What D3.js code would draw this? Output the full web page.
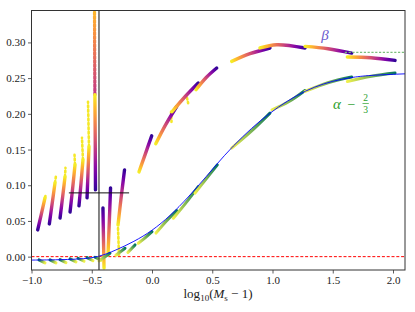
<!DOCTYPE html>
<html><head><meta charset="utf-8">
<script src="https://cdn.jsdelivr.net/npm/d3@7"></script>
<style>body{margin:0;background:#fff}svg{display:block}</style>
</head><body><svg id="c" width="415" height="312"></svg>
<script>
const xTicks=[-1.0,-0.5,0.0,0.5,1.0,1.5,2.0];
const yTicks=[0.00,0.05,0.10,0.15,0.20,0.25,0.30];
// fitted alpha - 2/3 curve (blue)
const fitX=[-1.0,-0.8,-0.6,-0.45,-0.3,-0.15,0.0,0.15,0.3,0.45,0.6,0.75,0.9,1.05,1.2,1.35,1.5,1.65,1.8,2.1];
const fitY=[-0.0048,-0.0045,-0.0035,-0.001,0.009,0.021,0.036,0.057,0.083,0.112,0.142,0.168,0.191,0.210,0.226,0.238,0.246,0.251,0.254,0.256];
// beta tracks (start of run -> end of run)
const betaTracks=[
 [[-0.888,0.0823],[-0.918,0.060],[-0.9485,0.0374]],
 [[-0.805,0.1033],[-0.828,0.075],[-0.852,0.0458]],
 [[-0.722,0.1117],[-0.742,0.083],[-0.763,0.0542]],
 [[-0.639,0.1286],[-0.659,0.095],[-0.680,0.0626]],
 [[-0.573,0.1356],[-0.589,0.103],[-0.606,0.0711]],
 [[-0.523,0.1538],[-0.531,0.118],[-0.539,0.0823]],
 [[-0.474,0.2267],[-0.471,0.16],[-0.469,0.0935]],
 [[-0.398,-0.0158],[-0.4025,0.0234],[-0.407,0.0683]],
 [[-0.365,0.0024],[-0.354,0.050],[-0.344,0.0963]],
 [[-0.282,0.0444],[-0.256,0.083],[-0.228,0.1215]],
 [[-0.108,0.1187],[-0.058,0.1426],[-0.0025,0.1692]],
 [[0.031,0.158],[0.108,0.1832],[0.205,0.2103]],
 [[0.166,0.2029],[0.274,0.2239],[0.384,0.2431]],
 [[0.365,0.2337],[0.448,0.2505],[0.537,0.2641]],
 [[0.661,0.2734],[0.813,0.2842],[0.979,0.2922]],
 [[0.896,0.2922],[1.035,0.2968],[1.270,0.2922]],
 [[1.270,0.2944],[1.461,0.2912],[1.657,0.2851]],
 [[1.621,0.2795],[1.817,0.2786],[2.017,0.2748]]
];
// sparse early points of beta runs
const betaTails=[
 [[-0.888,0.0823],[-0.880,0.0879]],
 [[-0.805,0.1033],[-0.797,0.1131]],
 [[-0.722,0.1117],[-0.718,0.1243]],
 [[-0.639,0.1286],[-0.643,0.1426]],
 [[-0.573,0.1356],[-0.581,0.1664]],
 [[-0.523,0.1538],[-0.531,0.2169]],
 [[-0.282,0.040],[-0.274,0.0024]],
 [[0.158,0.2028],[0.162,0.1888]],
 [[0.29,0.2225],[0.30,0.215]]
];
const columnTop=[[-0.474,0.2267],[-0.476,0.29],[-0.477,0.3445]];
// alpha - 2/3 tracks (start -> end)
const alphaTracks=[
 [[-0.888,-0.0088],[-0.938,-0.0046]],
 [[-0.797,-0.0088],[-0.846,-0.0046]],
 [[-0.714,-0.0084],[-0.763,-0.0042]],
 [[-0.631,-0.0074],[-0.680,-0.0032]],
 [[-0.564,-0.0064],[-0.614,-0.0022]],
 [[-0.490,-0.0056],[-0.539,-0.0014]],
 [[-0.423,-0.0050],[-0.473,-0.0008]],
 [[-0.44,-0.006],[-0.349,0.0048]],
 [[-0.30,0.002],[-0.224,0.0118]],
 [[-0.20,0.006],[-0.141,0.0164]],
 [[-0.114,0.0188],[-0.06,0.026],[0.0,0.035]],
 [[0.033,0.033],[0.12,0.050],[0.205,0.0645]],
 [[0.177,0.0538],[0.28,0.075],[0.384,0.0981]],
 [[0.357,0.0889],[0.45,0.109],[0.542,0.1286]],
 [[0.661,0.152],[0.82,0.175],[0.979,0.201]],
 [[0.996,0.2057],[1.13,0.2165],[1.270,0.2327]],
 [[1.270,0.2313],[1.46,0.2435],[1.657,0.2515]],
 [[1.621,0.2453],[1.82,0.2527],[2.017,0.2571]]
];
const betaLimitY=0.286, betaLimitX=[1.6,2.1];
const crossX=-0.44, crossY=0.0893, crossXRange=[-0.69,-0.19];

const svg=d3.select("#c");
const x=d3.scaleLinear().domain([-1.0,2.1]).range([31.5,405.05]);
const y=d3.scaleLinear().domain([-0.0187,0.3454]).range([270,10]);
const defs=svg.append("defs");
defs.append("clipPath").attr("id","clip").append("rect").attr("x",31.5).attr("y",10).attr("width",373.5).attr("height",260);
const plot=svg.append("g").attr("clip-path","url(#clip)");
const line=d3.line().x(d=>x(d[0])).y(d=>y(d[1])).curve(d3.curveCatmullRom);

let gid=0;
function gradPath(g,pts,colorFn,width,dash){
  const id="g"+(gid++);
  const p0=pts[0],p1=pts[pts.length-1];
  const gr=defs.append("linearGradient").attr("id",id).attr("gradientUnits","userSpaceOnUse")
    .attr("x1",x(p0[0])).attr("y1",y(p0[1])).attr("x2",x(p1[0])+0.01).attr("y2",y(p1[1])+0.01);
  d3.range(0,1.0001,0.125).forEach(t=>gr.append("stop").attr("offset",t).attr("stop-color",colorFn(t)));
  const p=g.append("path").attr("d",line(pts)).attr("fill","none").attr("stroke","url(#"+id+")")
    .attr("stroke-width",width).attr("stroke-linecap","round");
  if(dash) p.attr("stroke-dasharray",dash);
}
const plasmaRun=t=>d3.interpolatePlasma(0.97-0.9*t);
const summerRun=d3.interpolateRgb("#f0f04c","#08785e");

// reference lines
plot.append("line").attr("x1",x(-1.0)).attr("x2",x(2.1)).attr("y1",y(0)).attr("y2",y(0))
 .attr("stroke","#ff0000").attr("stroke-width",1).attr("stroke-dasharray","3,1.8");

betaTails.forEach(t=>gradPath(plot,t,()=>"#f5e829",2.6,"1.8,2.6"));
gradPath(plot,columnTop,t=>d3.interpolatePlasma(0.45+0.4*t),3.2,"2.5,1.5");
betaTracks.forEach(t=>gradPath(plot,t,plasmaRun,3.4));
alphaTracks.forEach(t=>gradPath(plot,t,summerRun,3));

plot.append("path").datum(fitX.map((v,i)=>[v,fitY[i]])).attr("d",d3.line().x(d=>x(d[0])).y(d=>y(d[1])).curve(d3.curveBasis))
 .attr("fill","none").attr("stroke","#0000ff").attr("stroke-width",0.9);

plot.append("line").attr("x1",x(betaLimitX[0])).attr("x2",x(betaLimitX[1])).attr("y1",y(betaLimitY)).attr("y2",y(betaLimitY))
 .attr("stroke","#7dbf7d").attr("stroke-width",1.4).attr("stroke-dasharray","2.2,1.6");

plot.append("line").attr("x1",x(crossX)).attr("x2",x(crossX)).attr("y1",10).attr("y2",270)
 .attr("stroke","#444").attr("stroke-width",1.3);
plot.append("line").attr("x1",x(crossXRange[0])).attr("x2",x(crossXRange[1])).attr("y1",y(crossY)).attr("y2",y(crossY))
 .attr("stroke","#111").attr("stroke-width",1);

// axes
const fnt="'Liberation Serif', 'DejaVu Serif', serif";
const xa=svg.append("g").attr("transform","translate(0,270)")
 .call(d3.axisBottom(x).tickValues(xTicks).tickFormat(d3.format(".1f")).tickSize(3.5).tickPadding(2.5));
const ya=svg.append("g").attr("transform","translate(31.5,0)")
 .call(d3.axisLeft(y).tickValues(yTicks).tickFormat(d3.format(".2f")).tickSize(3.5).tickPadding(2.5));
[xa,ya].forEach(a=>{a.select(".domain").remove();a.selectAll("text").attr("font-family",fnt).attr("font-size",11).attr("fill","#222");a.selectAll("line").attr("stroke","#333").attr("stroke-width",0.8);});
svg.append("rect").attr("x",31.5).attr("y",10.5).attr("width",373.5).attr("height",259.5)
 .attr("fill","none").attr("stroke","#333").attr("stroke-width",1);

// x label
const xl=svg.append("text").attr("x",218).attr("y",298).attr("text-anchor","middle")
 .attr("font-family",fnt).attr("font-size",13).attr("fill","#222");
xl.append("tspan").text("log");
xl.append("tspan").attr("font-size",9).attr("dy",3).text("10");
xl.append("tspan").attr("dy",-3).text("(");
xl.append("tspan").attr("font-style","italic").text("M");
xl.append("tspan").attr("font-size",9).attr("dy",3).text("s");
xl.append("tspan").attr("dy",-3).text(" − 1)");

// series labels
svg.append("text").attr("x",325).attr("y",40).attr("text-anchor","middle").attr("font-family",fnt)
 .attr("font-style","italic").attr("font-size",15).attr("fill","#6a5acd").text("β");
const ag=svg.append("g").attr("fill","#2ca02c").attr("font-family",fnt);
ag.append("text").attr("x",337).attr("y",109).attr("text-anchor","middle").attr("font-style","italic").attr("font-size",15).text("α");
ag.append("text").attr("x",351.5).attr("y",109).attr("text-anchor","middle").attr("font-size",14).text("−");
ag.append("text").attr("x",365.5).attr("y",100.5).attr("text-anchor","middle").attr("font-size",9.5).text("2");
ag.append("line").attr("x1",362.5).attr("x2",368.8).attr("y1",103.5).attr("y2",103.5).attr("stroke","#2ca02c").attr("stroke-width",0.7);
ag.append("text").attr("x",365.5).attr("y",113).attr("text-anchor","middle").attr("font-size",9.5).text("3");
</script></body></html>
